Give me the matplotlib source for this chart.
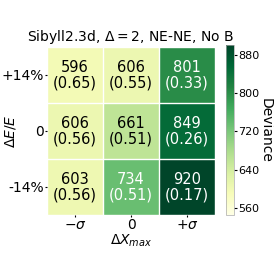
import matplotlib
matplotlib.use("Agg")
import matplotlib.pyplot as plt
import numpy as np

row_labels = ["+14%", "0", "-14%"]
col_labels = [r"$-\sigma$", "0", r"$+\sigma$"]
deviance = np.array([[596, 606, 801],
                     [606, 661, 849],
                     [603, 734, 920]])
pvalues = np.array([[0.65, 0.55, 0.33],
                    [0.56, 0.51, 0.26],
                    [0.56, 0.51, 0.17]])
vmin, vmax = 545, 900

fig = plt.figure(figsize=(2.74, 2.74), dpi=100)
ax = fig.add_axes([47/274, 1-215/274, 168/274, 168/274])
cax = fig.add_axes([226/274, 1-215/274, 8/274, 170/274])

im = ax.imshow(deviance, cmap="YlGn", vmin=vmin, vmax=vmax, aspect="auto")
for i in range(len(row_labels)):
    for j in range(len(col_labels)):
        v = deviance[i, j]
        col = "white" if (v - vmin) / (vmax - vmin) > 0.45 else "black"
        ax.text(j, i, f"{v}\n({pvalues[i, j]:.2f})", ha="center", va="center",
                color=col, fontsize=10.5, linespacing=1.0)

# white lines between cells
ax.set_xticks(np.arange(-0.5, 3, 1), minor=True)
ax.set_yticks(np.arange(-0.5, 3, 1), minor=True)
ax.grid(which="minor", color="white", linewidth=1)
ax.tick_params(which="minor", length=0)
for s in ax.spines.values():
    s.set_visible(False)

ax.set_xticks(range(3))
ax.set_xticklabels(col_labels, fontsize=10)
ax.set_yticks(range(3))
ax.set_yticklabels(row_labels, fontsize=10)
ax.tick_params(which="major", length=1.5, pad=1)
ax.set_xlabel(r"$\Delta X_{max}$", fontsize=10, labelpad=0)
ax.set_ylabel(r"$\Delta E/E$", fontsize=10)
ax.yaxis.set_label_coords(-0.17, 0.5)
ax.set_title(r"Sibyll2.3d, $\Delta = 2$, NE-NE, No B", fontsize=10, pad=4)

cb = fig.colorbar(im, cax=cax)
cb.set_ticks([560, 640, 720, 800, 880])
cb.ax.tick_params(labelsize=8, length=2, pad=1)
cb.outline.set_edgecolor("#aaaaaa")
cb.outline.set_linewidth(0.5)
cb.set_label("Deviance", rotation=270, va="center", fontsize=10)
cb.ax.yaxis.set_label_coords(5.0, 0.5)

fig.savefig("out.png", dpi=100)
